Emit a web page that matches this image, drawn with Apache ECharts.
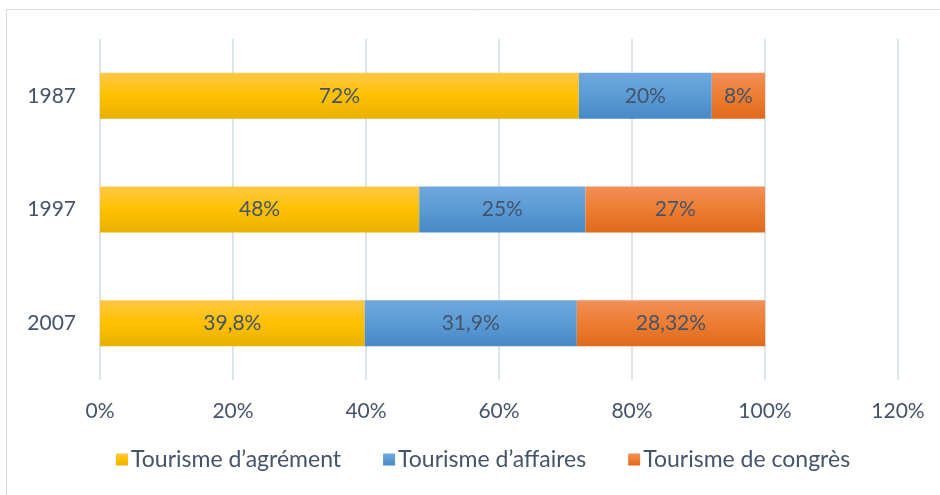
<!DOCTYPE html>
<head>
    <meta charset="utf-8">
    <title>Tourisme</title>
</head>
<body style="margin:0">
    <script type="text/javascript" src="https://cdn.jsdelivr.net/npm/echarts@6/dist/echarts.min.js"></script>

    <div id="main" style="width: 940px;height:495px;"></div>

    <script type="text/javascript">
        var annees = ['1987', '1997', '2007'];
        var agrement = [72, 48, 39.8];
        var affaires = [20, 25, 31.9];
        var congres = [8, 27, 28.32];
        var etiquettes = {
            agrement: ['72%', '48%', '39,8%'],
            affaires: ['20%', '25%', '31,9%'],
            congres: ['8%', '27%', '28,32%']
        };
        var ticks = [0, 20, 40, 60, 80, 100, 120];

        var texte = '#44546a';
        var police = 'Lato, "Open Sans", sans-serif';

        function degrade(haut, milieu, bas) {
            return new echarts.graphic.LinearGradient(0, 0, 0, 1, [
                { offset: 0, color: haut },
                { offset: 0.5, color: milieu },
                { offset: 1, color: bas }
            ]);
        }

        function serie(nom, valeurs, labels, couleur) {
            return {
                name: nom,
                type: 'bar',
                stack: 'total',
                barWidth: 46,
                data: valeurs,
                itemStyle: { color: couleur },
                label: {
                    show: true,
                    position: 'inside',
                    color: texte,
                    fontSize: 21,
                    fontFamily: police,
                    formatter: function (p) { return labels[p.dataIndex]; }
                }
            };
        }

        var myChart = echarts.init(document.getElementById('main'));
        myChart.setOption({
            animation: false,
            textStyle: { fontFamily: police },
            graphic: [{
                type: 'rect',
                shape: { x: 6.5, y: 9.5, width: 940, height: 490 },
                style: { fill: 'none', stroke: '#d9d9d9', lineWidth: 1 },
                silent: true
            }],
            grid: { left: 100, right: 42, top: 39, bottom: 115 },
            legend: {
                bottom: 19,
                left: 111,
                itemWidth: 12,
                itemHeight: 12,
                itemGap: 42,
                icon: 'rect',
                textStyle: { color: texte, fontSize: 23, fontFamily: police, padding: [0, 0, 0, -2] },
                data: ['Tourisme d\u2019agrément', 'Tourisme d\u2019affaires', 'Tourisme de congrès']
            },
            xAxis: {
                type: 'value',
                min: 0,
                max: 120,
                interval: 20,
                axisLine: { show: false },
                axisTick: { show: false },
                splitLine: { lineStyle: { color: '#dde3ea', width: 2 } },
                axisLabel: {
                    color: texte,
                    fontSize: 21,
                    margin: 21,
                    formatter: function (v) { return ticks.indexOf(v) >= 0 ? v + '%' : ''; }
                }
            },
            yAxis: {
                type: 'category',
                inverse: true,
                data: annees,
                axisLine: { show: false },
                axisTick: { show: false },
                axisLabel: { color: texte, fontSize: 21, margin: 24 }
            },
            series: [
                serie('Tourisme d\u2019agrément', agrement, etiquettes.agrement, degrade('#ffc946', '#ffc000', '#e8b100')),
                serie('Tourisme d\u2019affaires', affaires, etiquettes.affaires, degrade('#6fa8de', '#5b9bd5', '#4788c6')),
                serie('Tourisme de congrès', congres, etiquettes.congres, degrade('#f38f58', '#ed7d31', '#e06a1c'))
            ]
        });
    </script>
</body>
